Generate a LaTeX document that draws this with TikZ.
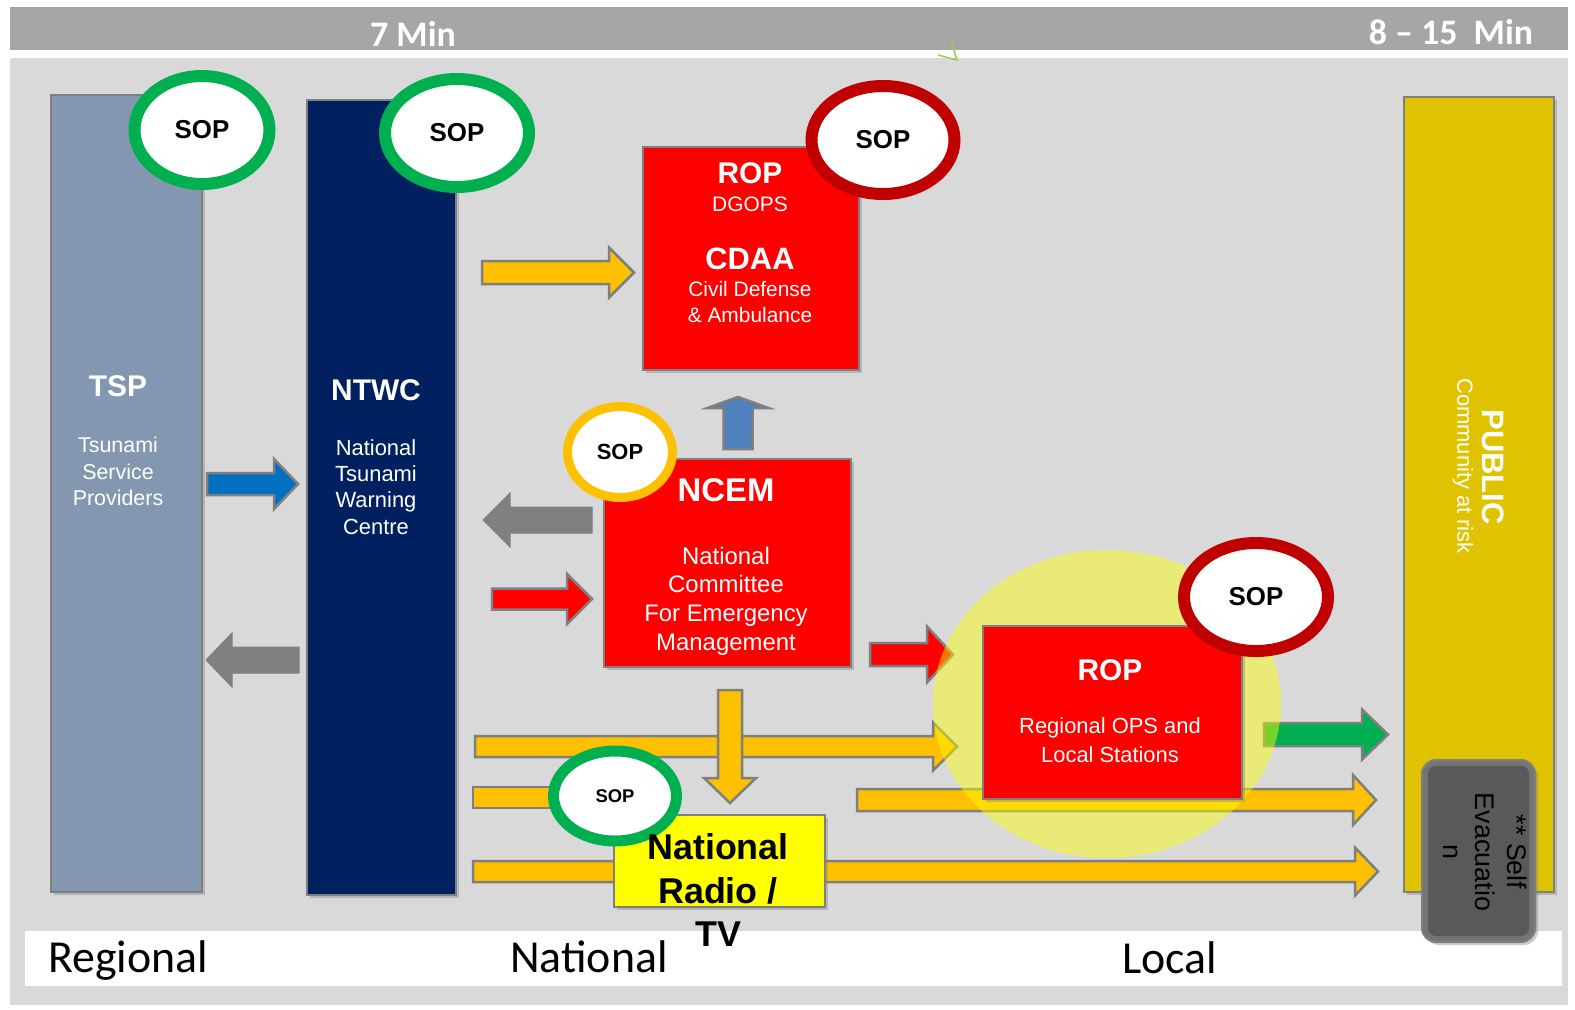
\documentclass[tikz,border=0pt]{standalone}
\usepackage{fontspec}
\setmainfont{Liberation Sans}
\newfontfamily\calibri{Carlito}
\usepackage{tikz}
\usetikzlibrary{calc}
\usetikzlibrary{shapes.geometric}
\usetikzlibrary{shadows}

\definecolor{panelgray}{HTML}{D9D9D9}
\definecolor{bargray}{HTML}{A6A6A6}
\definecolor{tspblue}{HTML}{8497B0}
\definecolor{ntwcnavy}{HTML}{002060}
\definecolor{boxred}{HTML}{FF0000}
\definecolor{publicgold}{HTML}{DFC300}
\definecolor{radioyellow}{HTML}{FFFF00}
\definecolor{arrowgold}{HTML}{FFC000}
\definecolor{arrowblue}{HTML}{0070C0}
\definecolor{steelblue}{HTML}{4F81BD}
\definecolor{sopgreen}{HTML}{00B050}
\definecolor{sopred}{HTML}{C00000}
\definecolor{edgegray}{HTML}{7F7F7F}
\definecolor{arrowgray}{HTML}{808080}
\definecolor{evacgray}{HTML}{595959}
\definecolor{bevelgray}{HTML}{747474}
\definecolor{tickgreen}{HTML}{92D050}

\newcommand{\fsz}[2]{\fontsize{#1}{#2}\selectfont}

% block arrow: style, from, to, shaft half width, head half width, head length
\newcommand{\flowarrow}[6]{%
  \path (#3) coordinate (fa-t) ($(#3)!#6bp!(#2)$) coordinate (fa-h);
  \filldraw[#1] ($(#2)!#4bp!90:(#3)$) -- ($(fa-h)!#4bp!90:(fa-t)$)
    -- ($(fa-h)!#5bp!90:(fa-t)$) -- (fa-t) -- ($(fa-h)!#5bp!-90:(fa-t)$)
    -- ($(fa-h)!#4bp!-90:(fa-t)$) -- ($(#2)!#4bp!-90:(#3)$) -- cycle;}

\tikzset{
  panelbox/.style={rectangle, draw=edgegray, line width=2bp, inner sep=0pt,
    drop shadow={shadow xshift=3bp, shadow yshift=-3bp, opacity=0.4}},
  sopring/.style={ellipse, draw=#1, fill=white, inner sep=0pt, line width=12bp,
    text=black, font={\bfseries\fsz{26}{30}}},
  whitetxt/.style={text=white, inner sep=0pt, align=center},
  bandtxt/.style={anchor=base, inner sep=0pt, font={\calibri\fsz{46}{50}}},
  goldarrow/.style={fill=arrowgold, draw=edgegray, line width=2.5bp},
  redarrow/.style={fill=boxred, draw=edgegray, line width=2.5bp},
  bluearrow/.style={fill=arrowblue, draw=edgegray, line width=2.5bp},
  steelarrow/.style={fill=steelblue, draw=edgegray, line width=2.5bp},
  greenarrow/.style={fill=sopgreen, draw=edgegray, line width=2.5bp},
  grayarrow/.style={fill=arrowgray, draw=arrowgray, line width=1bp}
}

\begin{document}
\begin{tikzpicture}[x=1bp, y=-1bp]
  \useasboundingbox (0,0) rectangle (1575,1009);
  \fill[white] (0,0) rectangle (1575,1009);
  \fill[panelgray] (10,58) rectangle (1568,1005);
  \fill[bargray] (10,7) rectangle (1568,50);
  \fill[white] (25,931) rectangle (1562,986);
  \draw[tickgreen, line width=1.5bp] (938,55) -- (957,60) -- (951,41);

  % time bar
  \node[text=white, anchor=base, inner sep=0pt, font={\calibri\bfseries\fsz{36}{40}}] (sevenmin) at (413,46) {7 Min};
  \node[text=white, anchor=base, inner sep=0pt, font={\calibri\bfseries\fsz{36}{40}}] (latemin) at (1451,44) {8 – 15\ \ Min};

  % levels
  \node[bandtxt] (regional) at (128,972) {Regional};
  \node[bandtxt] (national) at (589,972) {National};
  \node[bandtxt] (local) at (1170,973) {Local};

  % arrow ends
  \coordinate (bcA) at (475,746.5);  \coordinate (bcB) at (957,746.5);
  \coordinate (stubA) at (473,787);  \coordinate (stubB) at (600,808);
  \coordinate (lcA) at (857,800);    \coordinate (lcB) at (1376,800);
  \coordinate (pcA) at (473,871.5);  \coordinate (pcB) at (1378,871.5);
  \coordinate (dnA) at (730,690);    \coordinate (dnB) at (730,803);

  % broadcast lines
  \flowarrow{goldarrow}{bcA}{bcB}{10.5}{24}{24}
  \filldraw[goldarrow] (stubA) rectangle (stubB);
  \flowarrow{goldarrow}{lcA}{lcB}{11}{25}{23}
  \flowarrow{goldarrow}{pcA}{pcB}{10.5}{24}{23}
  \flowarrow{goldarrow}{dnA}{dnB}{12}{26}{25}

  % columns
  \node[panelbox, fill=tspblue, minimum width=151bp, minimum height=797bp] (tsp) at (126.5,493.5) {};
  \node[panelbox, fill=ntwcnavy, minimum width=149bp, minimum height=795bp] (ntwc) at (381.5,497.5) {};
  \node[panelbox, fill=publicgold, minimum width=150bp, minimum height=795bp] (public) at (1479,494.5) {};

  % agencies
  \node[panelbox, fill=boxred, minimum width=216bp, minimum height=223bp] (cdaa) at (751,258.5) {};
  \node[panelbox, fill=boxred, minimum width=247bp, minimum height=208bp] (ncem) at (727.5,562.75) {};
  \node[panelbox, fill=radioyellow, minimum width=211bp, minimum height=92bp] (radio) at (719.5,861) {};

  \coordinate (tnA) at (207,484);    \coordinate (tnB) at (298,484);
  \coordinate (ntA) at (299,660);    \coordinate (ntB) at (206,660);
  \coordinate (ncA) at (482,272.5);  \coordinate (ncB) at (634,272.5);
  \coordinate (upA) at (738,449);    \coordinate (upB) at (738,397);
  \coordinate (bkA) at (592,520);    \coordinate (bkB) at (483,520);
  \coordinate (inA) at (492,599);    \coordinate (inB) at (592,599);
  \coordinate (rpA) at (870,654.5);  \coordinate (rpB) at (953,654.5);
  \coordinate (gnA) at (1264,734.5); \coordinate (gnB) at (1388,734.5);

  \flowarrow{bluearrow}{tnA}{tnB}{11}{25}{24}
  \flowarrow{grayarrow}{ntA}{ntB}{13}{27}{26}
  \flowarrow{goldarrow}{ncA}{ncB}{11.5}{25}{25}
  \flowarrow{steelarrow}{upA}{upB}{14.5}{30.5}{11}
  \flowarrow{grayarrow}{bkA}{bkB}{13}{27}{27}
  \flowarrow{redarrow}{inA}{inB}{10.5}{25}{25}
  \flowarrow{redarrow}{rpA}{rpB}{11.5}{28}{26}
  \flowarrow{greenarrow}{gnA}{gnB}{11.5}{25}{26}

  % local stations
  \fill[radioyellow, opacity=0.45] (1107,704) ellipse [x radius=174, y radius=154];
  \node[panelbox, fill=boxred, minimum width=259bp, minimum height=173bp] (rop) at (1112.5,712.5) {};

  % SOPs
  \node[sopring=sopgreen, minimum width=135bp, minimum height=108bp] (tspsop) at (202,130) {SOP};
  \node[sopring=sopgreen, minimum width=144bp, minimum height=108bp] (ntwcsop) at (457,133) {SOP};
  \node[sopring=sopred, minimum width=143bp, minimum height=108bp] (cdaasop) at (883,140) {SOP};
  \node[sopring=arrowgold, line width=9bp, minimum width=105bp, minimum height=91bp, font={\bfseries\fsz{22}{26}}] (ncemsop) at (620,452) {SOP};
  \node[sopring=sopred, minimum width=144bp, minimum height=108bp] (ropsop) at (1256,597) {SOP};
  \node[sopring=sopgreen, line width=11bp, minimum width=123bp, minimum height=90bp, font={\bfseries\fsz{18.5}{22}}] (radiosop) at (615,796) {SOP};

  % column texts
  \node[whitetxt, font={\bfseries\fsz{30}{34}}] (tsptitle) at (118,386) {TSP};
  \node[whitetxt, font={\fsz{21.5}{26.5}}] (tspname) at (118,471.5) {Tsunami\\Service\\Providers};
  \node[whitetxt, font={\bfseries\fsz{30}{34}}] (ntwctitle) at (376,390) {NTWC};
  \node[whitetxt, font={\fsz{22}{26.3}}] (ntwcname) at (376,487) {National\\Tsunami\\Warning\\Centre};

  % box texts
  \node[whitetxt, font={\bfseries\fsz{30}{34}}] (cdaarop) at (750,173) {ROP};
  \node[whitetxt, font={\fsz{21}{25}}] (dgops) at (750,204) {DGOPS};
  \node[whitetxt, font={\bfseries\fsz{31}{35}}] (cdaatitle) at (750,259) {CDAA};
  \node[whitetxt, font={\fsz{21}{26}}] (cdaaname) at (750,302) {Civil Defense\\\& Ambulance};
  \node[whitetxt, font={\bfseries\fsz{33}{37}}] (ncemtitle) at (726,490) {NCEM};
  \node[whitetxt, font={\fsz{24}{28.7}}] (ncemname) at (726,601) {National\\Committee\\For Emergency\\Management};
  \node[whitetxt, font={\bfseries\fsz{30}{34}}] (roptitle) at (1110,670) {ROP};
  \node[whitetxt, font={\fsz{22}{29}}] (ropname) at (1110,740) {Regional OPS and\\Local Stations};
  \node[inner sep=0pt, align=center, font={\bfseries\fsz{36}{44}}] (radioname) at (718,890) {National\\Radio /\\TV};

  % public
  \node[whitetxt, rotate=-90, font={\bfseries\fsz{31}{35}}] (publictitle) at (1493,467) {PUBLIC};
  \node[whitetxt, rotate=-90, font={\fsz{22}{26}}] (publicname) at (1463,466) {Community at risk};

  % self evacuation
  \node[panelbox, fill=bevelgray, rounded corners=14bp, minimum width=113bp, minimum height=182bp] (evac) at (1478.5,851) {};
  \fill[evacgray, rounded corners=8bp] ($(evac.north west)+(7,7)$) rectangle ($(evac.south east)+(-7,-7)$);
  \node[inner sep=0pt, align=center, rotate=-90, font={\fsz{27}{32}}] (evacname) at (1485,852) {** Self\\Evacuatio\\n};
\end{tikzpicture}
\end{document}
